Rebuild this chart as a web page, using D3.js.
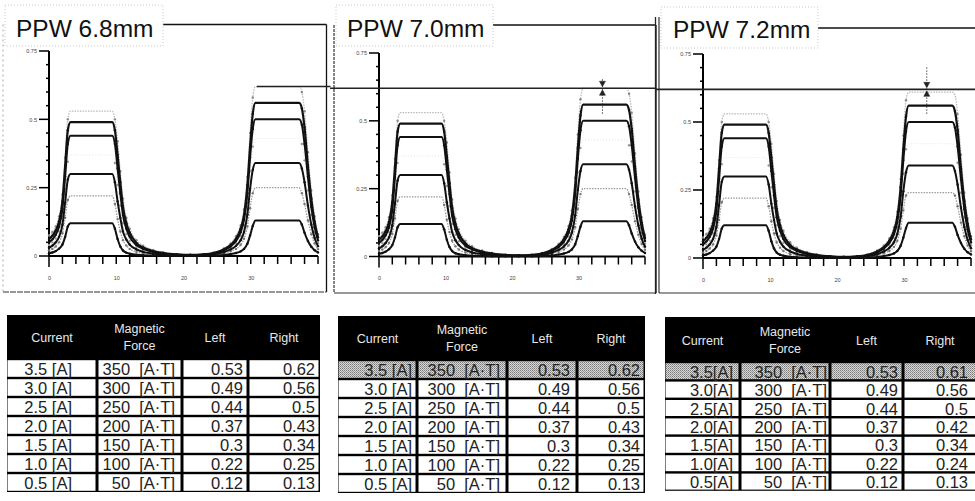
<!DOCTYPE html>
<html>
<head>
<meta charset="utf-8">
<script src="https://cdn.jsdelivr.net/npm/d3@7"></script>
<style>
  body { margin: 0; background: #fff; }
  svg { display: block; font-family: "Liberation Sans", Arial, sans-serif; }
</style>
</head>
<body>
<svg id="chart" width="975" height="501"></svg>
<script>
// ---- data ----------------------------------------------------------------
const panelTitles = ["PPW 6.8mm", "PPW 7.0mm", "PPW 7.2mm"];
const currents = ["3.5", "3.0", "2.5", "2.0", "1.5", "1.0", "0.5"];   // [A]
const forces   = ["350", "300", "250", "200", "150", "100", "50"];    // [A·T]

// plateau flux per current (left pole / right pole), one row per PPW
const leftPeaks = [
  [0.53, 0.49, 0.44, 0.37, 0.3, 0.22, 0.12],
  [0.53, 0.49, 0.44, 0.37, 0.3, 0.22, 0.12],
  [0.53, 0.49, 0.44, 0.37, 0.3, 0.22, 0.12]
];
const rightPeaks = [
  [0.62, 0.56, 0.5, 0.43, 0.34, 0.25, 0.13],
  [0.62, 0.56, 0.5, 0.43, 0.34, 0.25, 0.13],
  [0.61, 0.56, 0.5, 0.42, 0.34, 0.24, 0.13]
];

// sample positions along the gap [mm]
const leftRiseX  = [0, 0.5, 1, 1.5, 2, 2.4, 2.8];
const leftTopX   = [3.2, 6.4, 9.4];
const leftFallX  = [9.8, 10.2, 10.6, 11, 11.5, 12, 13, 14, 15.5, 17, 19];
const valleyX    = [21, 23];
const rightRiseX = [24.5, 26, 27, 27.8, 28.5, 29, 29.5, 29.9, 30.3];
const rightTopX  = [30.7, 34, 37.2];
const rightFallX = [37.6, 38, 38.5, 39, 39.5, 40];

// flux on the flanks, one row per current (3.5 A ... 0.5 A)
const leftRise = [
  [0.075, 0.088, 0.108, 0.145, 0.225, 0.36, 0.5],
  [0.062, 0.074, 0.093, 0.127, 0.2, 0.33, 0.46],
  [0.05, 0.061, 0.078, 0.108, 0.172, 0.29, 0.41],
  [0.04, 0.05, 0.064, 0.09, 0.145, 0.245, 0.345],
  [0.03, 0.038, 0.05, 0.07, 0.115, 0.195, 0.28],
  [0.02, 0.026, 0.035, 0.05, 0.083, 0.14, 0.205],
  [0.01, 0.013, 0.018, 0.027, 0.042, 0.07, 0.108]
];
const leftFall = [
  [0.5, 0.42, 0.31, 0.21, 0.14, 0.1, 0.058, 0.038, 0.022, 0.013, 0.007],
  [0.46, 0.37, 0.27, 0.18, 0.12, 0.085, 0.048, 0.031, 0.018, 0.011, 0.006],
  [0.41, 0.32, 0.23, 0.15, 0.1, 0.07, 0.04, 0.026, 0.015, 0.009, 0.005],
  [0.34, 0.26, 0.185, 0.12, 0.08, 0.056, 0.032, 0.021, 0.012, 0.007, 0.004],
  [0.27, 0.2, 0.14, 0.09, 0.06, 0.042, 0.024, 0.015, 0.009, 0.005, 0.003],
  [0.19, 0.135, 0.09, 0.058, 0.038, 0.026, 0.015, 0.01, 0.006, 0.004, 0.002],
  [0.1, 0.062, 0.035, 0.02, 0.012, 0.008, 0.005, 0.003, 0.002, 0.001, 0.001]
];
const valley = [
  [0.005, 0.007], [0.004, 0.006], [0.004, 0.005], [0.003, 0.004],
  [0.002, 0.003], [0.002, 0.002], [0.001, 0.001]
];
const rightRise = [
  [0.013, 0.028, 0.046, 0.072, 0.112, 0.17, 0.29, 0.45, 0.58],
  [0.011, 0.024, 0.04, 0.063, 0.1, 0.15, 0.26, 0.4, 0.52],
  [0.01, 0.021, 0.035, 0.055, 0.087, 0.132, 0.23, 0.36, 0.465],
  [0.008, 0.018, 0.03, 0.047, 0.074, 0.113, 0.195, 0.31, 0.4],
  [0.006, 0.014, 0.024, 0.037, 0.058, 0.088, 0.152, 0.245, 0.315],
  [0.004, 0.01, 0.017, 0.026, 0.041, 0.063, 0.108, 0.175, 0.23],
  [0.002, 0.004, 0.007, 0.011, 0.017, 0.026, 0.045, 0.075, 0.11]
];
const rightFall = [
  [0.6, 0.53, 0.38, 0.24, 0.145, 0.08],
  [0.54, 0.47, 0.33, 0.21, 0.125, 0.068],
  [0.48, 0.41, 0.29, 0.18, 0.105, 0.057],
  [0.41, 0.35, 0.24, 0.15, 0.087, 0.047],
  [0.32, 0.27, 0.185, 0.115, 0.066, 0.036],
  [0.23, 0.19, 0.13, 0.08, 0.046, 0.025],
  [0.115, 0.085, 0.055, 0.034, 0.021, 0.013]
];

// measuring cursor on the right pole (none on the first plot)
const cursorAt = [null, 33.6, 33.4];
const yTicks = [0, 0.05, 0.1, 0.15, 0.2, 0.25, 0.3, 0.35, 0.4, 0.45, 0.5, 0.55, 0.6, 0.65, 0.7, 0.75];
const yLabels = [0, 0.25, 0.5, 0.75];
const xTicks = [0, 2, 4, 6, 8, 10, 12, 14, 16, 18, 20, 22, 24, 26, 28, 30, 32, 34, 36, 38, 40];
const xLabels = [0, 10, 20, 30];

// ---- layout ----------------------------------------------------------------
const svg = d3.select("#chart");
const defs = svg.append("defs");
const pat = defs.append("pattern").attr("id", "dither")
  .attr("width", 2).attr("height", 2).attr("patternUnits", "userSpaceOnUse");
pat.append("rect").attr("width", 2).attr("height", 2).attr("fill", "#d8d8d8");
pat.append("rect").attr("width", 1).attr("height", 1).attr("fill", "#7a7a7a");
pat.append("rect").attr("x", 1).attr("y", 1).attr("width", 1).attr("height", 1).attr("fill", "#9a9a9a");

const plots = [
  { x0: 49,  x1: 318, y0: 256,   y1: 51, title: [16, 37],  box: [5, 5, 158, 41],
    left: 3,   right: 326.5, top: 24.5, bottom: 292, topFrom: 163 },
  { x0: 379, x1: 645, y0: 256.5, y1: 53, title: [347, 37], box: [336, 5, 157, 41],
    left: 334, right: 656,   top: 25,   bottom: 293, topFrom: 493 },
  { x0: 703, x1: 971, y0: 258,   y1: 54, title: [673, 38], box: [661, 7, 157, 41],
    left: 659, right: 976,   top: 28,   bottom: 293, topFrom: 818 }
];

const seriesStyle = [
  { stroke: "#b9b9b9", width: 1.3, dash: "1.5,1.2", dot: "#8a8a8a" },
  { stroke: "#111",    width: 2.2, dash: null,      dot: "#111" },
  { stroke: "#111",    width: 2.0, dash: null,      dot: "#111" },
  { stroke: "#e2e2e2", width: 1.0, dash: "1,2",     dot: "#9a9a9a" },
  { stroke: "#111",    width: 2.0, dash: null,      dot: "#111" },
  { stroke: "#9c9c9c", width: 1.3, dash: "1.5,1.2", dot: "#777" },
  { stroke: "#111",    width: 2.0, dash: null,      dot: "#111" }
];

const levelLine = rightPeaks[0][0];
const isLabel = d => yLabels.some(v => Math.abs(v - d) < 1e-9);

plots.forEach((g, p) => {
  const x = d3.scaleLinear().domain([0, 40]).range([g.x0, g.x1]);
  const y = d3.scaleLinear().domain([0, 0.75]).range([g.y0, g.y1]);
  const gp = svg.append("g");

  // frame
  const frame = gp.append("g").attr("fill", "none");
  frame.append("line").attr("x1", g.topFrom).attr("x2", g.right).attr("y1", g.top).attr("y2", g.top)
    .attr("stroke", "#111").attr("stroke-width", 1.3);
  frame.append("line").attr("x1", g.right).attr("x2", g.right).attr("y1", g.top).attr("y2", g.bottom)
    .attr("stroke", "#111").attr("stroke-width", 1.3);
  frame.append("line").attr("x1", g.left).attr("x2", g.right).attr("y1", g.bottom).attr("y2", g.bottom)
    .attr("stroke", "#333").attr("stroke-width", 1.2).attr("stroke-dasharray", p === 0 ? "6,1" : null);
  frame.append("line").attr("x1", g.left).attr("x2", g.left).attr("y1", p === 2 ? 17 : g.top).attr("y2", g.bottom)
    .attr("stroke", p === 0 ? "#aaa" : "#333").attr("stroke-width", p === 0 ? 1 : 1.2)
    .attr("stroke-dasharray", p === 0 ? "2,3" : (p === 1 ? "3,1" : null));
  if (p === 2) {
    frame.append("line").attr("x1", 655.5).attr("x2", 655.5).attr("y1", 17).attr("y2", 294)
      .attr("stroke", "#222").attr("stroke-width", 1.3);
  }
  // title box
  gp.append("rect").attr("x", g.box[0]).attr("y", g.box[1]).attr("width", g.box[2]).attr("height", g.box[3])
    .attr("fill", "#fff").attr("stroke", "#bbb").attr("stroke-width", 0.8).attr("stroke-dasharray", "1,2");
  gp.append("text").attr("x", g.title[0]).attr("y", g.title[1])
    .attr("font-size", 24.5).attr("fill", "#111").text(panelTitles[p]);

  // axes: labels from d3.axis; rules and ticks as thin bars on the same scales
  const yAxis = d3.axisLeft(y).tickValues(yTicks).tickSize(3).tickSizeOuter(0)
    .tickFormat(d => isLabel(d) ? String(+d.toFixed(2)) : "");
  const ya = gp.append("g").attr("transform", `translate(${g.x0},0)`).call(yAxis);
  ya.selectAll("line, path").remove();
  ya.selectAll("g.tick text").attr("font-size", 5.5).attr("fill", "#444").attr("x", -12);

  const xAxis = d3.axisBottom(x).tickValues(xTicks).tickSize(8).tickSizeOuter(0).tickPadding(12)
    .tickFormat(d => xLabels.includes(d) ? String(d) : "");
  const xa = gp.append("g").attr("transform", `translate(0,${g.y0})`).call(xAxis);
  xa.selectAll("line, path").remove();
  xa.selectAll("g.tick text").attr("font-size", 5.5).attr("fill", "#444");

  const rules = gp.append("g").attr("fill", "#000");
  rules.append("rect").attr("x", x(0) - 1).attr("y", y(0.75)).attr("width", 2)
    .attr("height", y(0) - y(0.75));
  rules.append("rect").attr("x", x(0)).attr("y", y(0) - 1).attr("width", x(40) - x(0))
    .attr("height", 2);
  rules.selectAll("rect.yt").data(yTicks).join("rect").attr("class", "yt")
    .attr("x", d => x(0) - (isLabel(d) ? 10 : 3)).attr("width", d => isLabel(d) ? 10 : 3)
    .attr("y", d => y(d) - 0.75).attr("height", 1.5);
  rules.selectAll("rect.xt").data(xTicks).join("rect").attr("class", "xt")
    .attr("x", d => x(d) - 0.75).attr("width", 1.5)
    .attr("y", y(0)).attr("height", d => d === 0 ? 11 : 8);

  // flux curves
  const line = d3.line().x(d => x(d[0])).y(d => y(d[1])).curve(d3.curveMonotoneX);
  const xs = [...leftRiseX, ...leftTopX, ...leftFallX, ...valleyX, ...rightRiseX, ...rightTopX, ...rightFallX];
  const order = [3, 0, 5, 6, 4, 2, 1];
  order.forEach(i => {
    const L = leftPeaks[p][i], R = rightPeaks[p][i];
    const ys = [...leftRise[i], L, L, L, ...leftFall[i], ...valley[i], ...rightRise[i], R, R, R, ...rightFall[i]];
    const pts = xs.map((v, k) => [v, ys[k]]);
    const st = seriesStyle[i];
    gp.append("path").datum(pts).attr("d", line).attr("fill", "none")
      .attr("stroke", st.stroke).attr("stroke-width", st.width)
      .attr("stroke-dasharray", st.dash);
    gp.append("g").selectAll("circle").data(pts.filter(d => d[1] < (d[0] < 20 ? L : R) * 0.97)).join("circle")
      .attr("cx", d => x(d[0])).attr("cy", d => y(d[1])).attr("r", 1.2).attr("fill", st.dot);
  });

  // reference level of the strongest right-pole flux
  const lx1 = p === 0 ? x(30.9) : g.left - 4;
  gp.append("line").attr("x1", lx1).attr("x2", p === 0 ? g.right + 4 : g.right)
    .attr("y1", y(levelLine)).attr("y2", y(levelLine))
    .attr("stroke", "#222").attr("stroke-width", 1.6);

  // cursor with arrows
  if (cursorAt[p] !== null) {
    const cx = x(cursorAt[p]), cy = y(levelLine);
    const c = gp.append("g").attr("fill", "#222").attr("stroke", "#222");
    c.append("line").attr("x1", cx).attr("x2", cx).attr("y1", cy - (p === 2 ? 22 : 9)).attr("y2", cy + 26)
      .attr("stroke-width", 0.8).attr("stroke-dasharray", "1.5,1.5");
    c.append("path").attr("d", `M${cx - 3},${cy - 7}L${cx + 3},${cy - 7}L${cx},${cy - 1.5}Z`).attr("stroke-width", 0.5);
    c.append("path").attr("d", `M${cx - 3},${cy + 7}L${cx + 3},${cy + 7}L${cx},${cy + 1.5}Z`).attr("stroke-width", 0.5);
  }
});

// ---- tables ----------------------------------------------------------------
const tables = [
  { cols: [7, 97, 182, 248, 320], head: [315, 359], rowH: 19, ends: [72, 175, 243, 315], sp: " ", hl: false },
  { cols: [338, 417, 507, 577, 645], head: [316, 360], rowH: 19, ends: [412, 500, 570, 640], sp: " ", hl: true },
  { cols: [665, 740, 830, 903, 977], head: [317, 362], rowH: 18.4, ends: [733, 827, 898, 968], sp: "", hl: true }
];

tables.forEach((t, p) => {
  const gt = svg.append("g");
  const top = t.head[0], hb = t.head[1];
  const bottom = hb + t.rowH * currents.length;
  gt.append("rect").attr("x", t.cols[0]).attr("y", top)
    .attr("width", t.cols[4] - t.cols[0]).attr("height", bottom - top).attr("fill", "#000");

  // header
  const hy = (top + hb) / 2;
  const hc = c => (t.cols[c] + t.cols[c + 1]) / 2;
  const htxt = (xp, yp, s) => gt.append("text").attr("x", xp).attr("y", yp).attr("text-anchor", "middle")
    .attr("dominant-baseline", "central").attr("font-size", 12.5).attr("fill", "#e8e8e8").text(s);
  htxt(hc(0), hy + 1, "Current");
  htxt(hc(1), hy - 8, "Magnetic");
  htxt(hc(1), hy + 9, "Force");
  htxt(hc(2), hy + 1, "Left");
  htxt(hc(3), hy + 1, "Right");

  // body rows
  const cells = [
    i => `${currents[i]}${t.sp}[A]`,
    i => `${forces[i]}  [A·T]`,
    i => String(leftPeaks[p][i]),
    i => String(rightPeaks[p][i])
  ];
  currents.forEach((cur, i) => {
    const ry = hb + i * t.rowH;
    for (let c = 0; c < 4; c++) {
      gt.append("rect").attr("x", t.cols[c] + (c === 0 ? 0.5 : 1.5)).attr("y", ry + 1.2)
        .attr("width", t.cols[c + 1] - t.cols[c] - (c === 0 ? 2 : 3)).attr("height", t.rowH - 2.4)
        .attr("fill", t.hl && i === 0 ? "url(#dither)" : "#fff");
      gt.append("text").attr("x", t.ends[c]).attr("y", ry + t.rowH / 2 + 0.5)
        .attr("text-anchor", "end").attr("dominant-baseline", "central")
        .attr("font-size", 16.5).attr("fill", "#222")
        .style("white-space", "pre").text(cells[c](i));
    }
  });
});
</script>
</body>
</html>
